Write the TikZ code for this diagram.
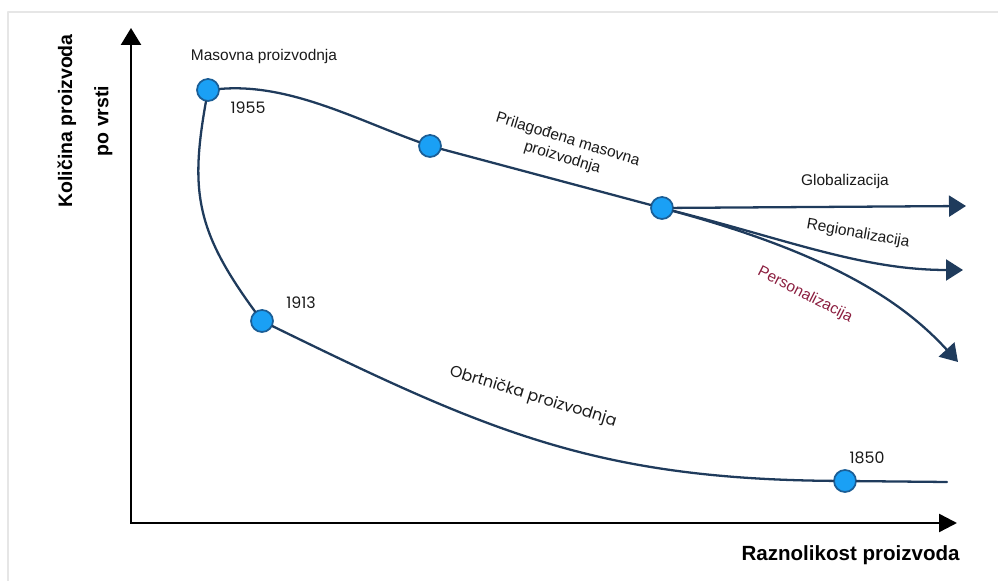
\documentclass[tikz,border=0pt]{standalone}
\usepackage{fontspec}
\setmainfont{Liberation Sans}
\newfontfamily\yearfont{Poppins}
\usetikzlibrary{arrows.meta,positioning}
\definecolor{navy}{HTML}{1F3B5C}
\definecolor{dot}{HTML}{1AA0F5}
\definecolor{dotrim}{HTML}{1B5E96}
\definecolor{ink}{HTML}{1A1A1A}
\definecolor{wine}{HTML}{8B1E3F}
\definecolor{frame}{HTML}{E6E6E6}
\tikzset{
  Stage/.style={
    circle, draw=dotrim, line width=1pt,
    fill=dot, minimum size=0.44cm, inner sep=0pt
  },
  Path/.style={draw=navy, line width=1.3pt},
  Branch/.style={Path, -{Triangle[length=3.4mm,width=4.2mm]}},
  Lbl/.style={text=ink, font=\fontsize{8.8}{10.8}\selectfont, inner sep=0pt},
  Year/.style={text=ink, font=\yearfont\fontsize{9}{11}\selectfont, inner sep=0pt},
  AxisLbl/.style={text=black, align=center, inner sep=0pt},
  Axis/.style={line width=1.4pt, black, line join=miter}
}

\begin{document}
\begin{tikzpicture}[x=0.02cm, y=0.02cm, line cap=round, line join=round]
  \useasboundingbox (0,0) rectangle (998,581);
  \draw[frame, line width=0.6pt] (8,0) -- (8,569) -- (998,569);

  % axes
  \coordinate (O) at (131,58);
  \coordinate (YTop) at (131,553);
  \coordinate (XEnd) at (957,58);
  \draw[Axis, {Triangle[length=3.4mm,width=4mm]}-{Triangle[length=3.6mm,width=3.6mm]}]
    (YTop) -- (O) -- (XEnd);
  \node[AxisLbl, rotate=90, font=\bfseries\fontsize{11.1}{20.5}\selectfont] (YLbl)
    at (85,460) {Količina proizvoda\\po vrsti};
  \node[AxisLbl, anchor=base east, font=\bfseries\fontsize{11.7}{14}\selectfont] (XLbl)
    at (960,20) {Raznolikost proizvoda};

  % stages
  \node[Stage] (S1955) at (208,491) {};
  \node[Stage] (SMid) at (430,435) {};
  \node[Stage] (SBr) at (662,373) {};
  \node[Stage] (S1913) at (262,260) {};
  \node[Stage] (S1850) at (845,100) {};
  \coordinate (Tail) at (947,99);
  \coordinate (GEnd) at (966,375);
  \coordinate (REnd) at (963,311);
  \coordinate (PEnd) at (958,219);

  \draw[Path] (S1955) .. controls (288,498) and (355,462) .. (SMid);
  \draw[Path] (SMid) -- (SBr);
  \draw[Path] (S1955) .. controls (190,390) and (196,350) .. (S1913);
  \draw[Path] (S1913) .. controls (487,150) and (595,102) .. (S1850);
  \draw[Path] (S1850) -- (Tail);

  \draw[Branch] (SBr) -- (GEnd);
  \draw[Branch] (SBr) .. controls (788,341) and (863,311) .. (REnd);
  \draw[Branch] (SBr) .. controls (834,326) and (904,278) .. (PEnd);

  % labels
  \node[Lbl] (LMass) at (264,524) {Masovna proizvodnja};
  \node[Year] (L1955) at (248,473) {1955};
  \node[Year] (L1913) at (301,278) {1913};
  \node[Year] (L1850) at (867,123) {1850};
  \node[Lbl, rotate=-17, align=center] (LCustom) at (565,432) {Prilagođena masovna\\proizvodnja};
  \node[Lbl] (LGlob) at (845,399) {Globalizacija};
  \node[Lbl, rotate=-10] (LReg) at (858,347) {Regionalizacija};
  \node[Lbl, rotate=-27, text=wine] (LPers) at (805,286) {Personalizacija};
  \node[Year, rotate=-17] (LCraft) at (533,184) {Obrtnička proizvodnja};
\end{tikzpicture}
\end{document}
